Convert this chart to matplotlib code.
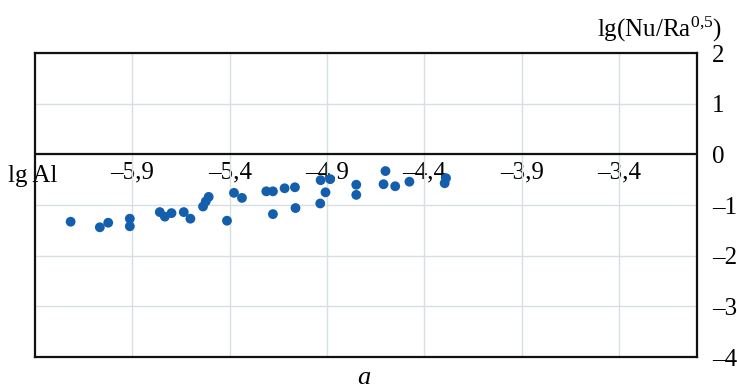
import matplotlib
matplotlib.use("Agg")
import matplotlib.pyplot as plt

plt.rcParams['font.family'] = ['Liberation Serif', 'DejaVu Serif']
plt.rcParams['mathtext.fontset'] = 'custom'
plt.rcParams['mathtext.rm'] = 'Liberation Serif'

# data: lg Al vs lg(Nu/Ra^0.5)
lg_al = [-6.217, -6.067, -6.024, -5.913, -5.913, -5.759, -5.733, -5.699,
         -5.636, -5.602, -5.537, -5.523, -5.508, -5.414, -5.378, -5.337,
         -5.212, -5.178, -5.178, -5.118, -5.065, -5.062, -4.935, -4.933,
         -4.884, -4.908, -4.750, -4.750, -4.600, -4.610, -4.550, -4.477,
         -4.289, -4.296]
lg_nu = [-1.33, -1.44, -1.35, -1.27, -1.42, -1.14, -1.23, -1.16,
         -1.14, -1.27, -1.03, -0.93, -0.84, -1.31, -0.76, -0.86,
         -0.73, -0.73, -1.18, -0.67, -0.65, -1.06, -0.97, -0.51,
         -0.49, -0.75, -0.60, -0.80, -0.33, -0.59, -0.63, -0.54,
         -0.47, -0.57]

x_ticks = [-5.9, -5.4, -4.9, -4.4, -3.9, -3.4]
x_labels = ['–5,9', '–5,4', '–4,9', '–4,4', '–3,9', '–3,4']
y_ticks = [-4, -3, -2, -1, 0, 1, 2]
y_labels = ['–4', '–3', '–2', '–1', '0', '1', '2']

W, H = 737, 392
fig = plt.figure(figsize=(W / 100, H / 100), dpi=100)
ax = fig.add_axes([35 / W, 1 - 357 / H, (697 - 35) / W, (357 - 53) / H])

ax.set_xlim(-6.4, -3.0)
ax.set_ylim(-4, 2)

grid_c = '#d6dfe2'
ax.set_xticks(x_ticks)
ax.set_xticklabels([])
ax.tick_params(axis='x', length=0)
ax.set_yticks(y_ticks)
ax.set_yticklabels(y_labels, fontsize=18)
ax.yaxis.tick_right()
ax.tick_params(axis='y', length=0, pad=11)
ax.grid(True, color=grid_c, lw=1.0, zorder=0)
ax.set_axisbelow(True)

for s in ax.spines.values():
    s.set_linewidth(1.6)
    s.set_color('#111111')

ax.axhline(0, color='#111111', lw=1.6, zorder=2)

sec = ax.secondary_xaxis(4 / 6)
sec.set_alignment('bottom')
sec.set_xticks(x_ticks)
sec.set_xticklabels(x_labels, fontsize=18)
sec.tick_params(length=0, pad=5)
for s in sec.spines.values():
    s.set_visible(False)

ax.scatter(lg_al, lg_nu, s=50, color='#135fae', edgecolors='none', zorder=3)

fig.text(8 / W, 1 - 176 / H, 'lg Al', fontsize=18, ha='left', va='center')
fig.text(722 / W, 1 - 29 / H, r'$\mathregular{lg(Nu/Ra^{0{,}5})}$', fontsize=18,
         ha='right', va='center')
fig.text(364 / W, 1 - 378 / H, 'a', fontsize=19, style='italic', ha='center', va='center')

fig.savefig('out.png', dpi=100)
